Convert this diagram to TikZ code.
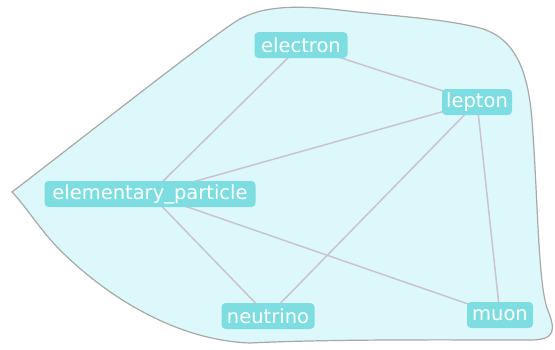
\documentclass[tikz,border=0pt]{standalone}
\usepackage{fontspec}
\setmainfont{DejaVu Sans}
\usetikzlibrary{backgrounds}
\begin{document}
\begin{tikzpicture}[x=1pt,y=-1pt,
  term/.style={fill=termfill, rounded corners=4pt, text=white, font=\fontsize{19.5}{21}\selectfont, inner sep=0pt, minimum height=26pt},
  link/.style={draw=linkgray, line width=1.5pt}]
\definecolor{termfill}{HTML}{7EDDE1}
\definecolor{blobfill}{HTML}{DDF8FA}
\definecolor{blobline}{HTML}{A8A8A8}
\definecolor{linkgray}{HTML}{C9C3D2}
\useasboundingbox (0,0) rectangle (555,349);
\node[term, minimum width=93pt] (electron) at (301,45) {electron};
\node[term, minimum width=70pt] (lepton) at (477,102) {lepton};
\node[term, minimum width=211pt] (ep) at (150,194) {elementary\_particle};
\node[term, minimum width=93pt] (neutrino) at (268,316) {neutrino};
\node[term, minimum width=66pt] (muon) at (500,315) {muon};
\begin{scope}[on background layer]
\fill[white] (0,0) rectangle (555,349);
\draw[blobline, fill=blobfill, line width=1.2pt]
  (12,192) .. controls (80,140) and (200,45) .. (235,22)
  .. controls (260,5.6) and (295,5) .. (340,10)
  .. controls (390,16) and (440,18) .. (480,28)
  .. controls (515,38) and (528,70) .. (532,120)
  .. controls (538,200) and (538,280) .. (547,308)
  .. controls (556,330) and (556,340) .. (530,340)
  .. controls (450,340) and (330,339) .. (250,343)
  .. controls (170,340) and (100,290) .. (60,250)
  .. controls (40,230) and (25,205) .. (12,192) -- cycle;
\draw[link] (electron.center) -- (ep.center);
\draw[link] (electron.center) -- (lepton.center);
\draw[link] (lepton.center) -- (ep.center);
\draw[link] (lepton.center) -- (neutrino.center);
\draw[link] (lepton.center) -- (muon.center);
\draw[link] (ep.center) -- (neutrino.center);
\draw[link] (ep.center) -- (muon.center);
\end{scope}
\end{tikzpicture}
\end{document}
